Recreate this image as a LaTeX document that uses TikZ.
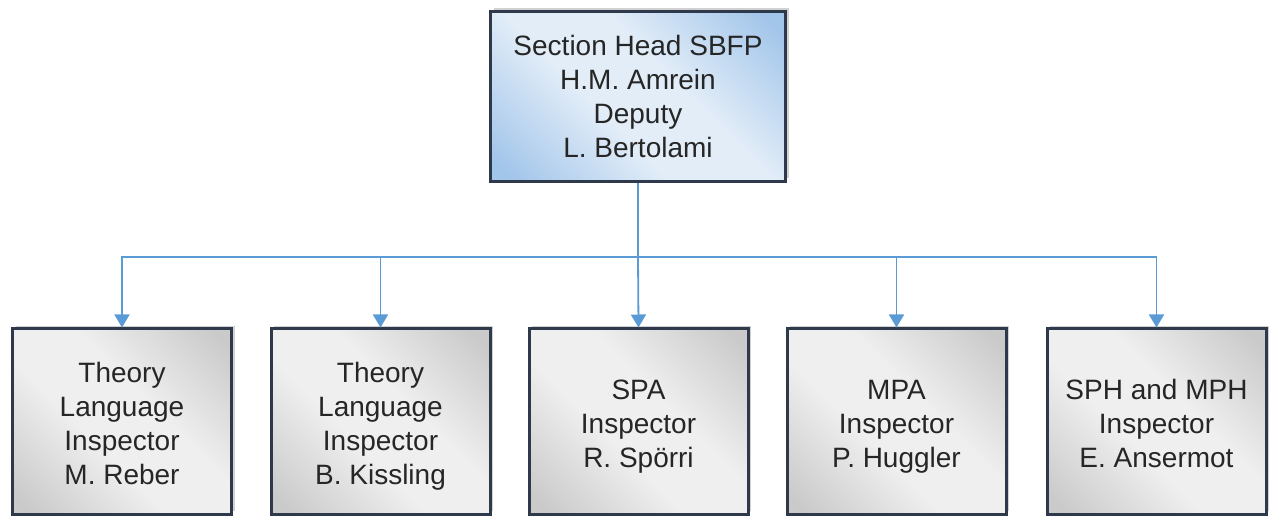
\documentclass[tikz,border=0pt]{standalone}
\usepackage{fontspec}
\setmainfont{Liberation Sans}
\usetikzlibrary{arrows.meta,shadows}
\definecolor{linkblue}{HTML}{5B9BD5}
\definecolor{edgedark}{HTML}{2E3A4C}
\definecolor{bluecorner}{HTML}{A2C5EA}
\definecolor{bluemid}{HTML}{E2EDF8}
\definecolor{graycorner}{HTML}{CACACA}
\definecolor{graymid}{HTML}{EFEFEF}
\pgfdeclarehorizontalshading{triblue}{100bp}{color(0bp)=(bluecorner); color(18bp)=(bluecorner); color(42bp)=(bluemid); color(58bp)=(bluemid); color(82bp)=(bluecorner); color(100bp)=(bluecorner)}
\pgfdeclarehorizontalshading{trigray}{100bp}{color(0bp)=(graycorner); color(18bp)=(graycorner); color(42bp)=(graymid); color(58bp)=(graymid); color(82bp)=(graycorner); color(100bp)=(graycorner)}
\newcommand{\hs}{\rule{0pt}{26pt}}
\newcommand{\fs}{\rule{0pt}{30pt}}
\newcommand{\es}{\rule[-6pt]{0pt}{0pt}}
\tikzset{
  boxbase/.style={draw=edgedark, line width=3pt, inner sep=0pt, align=center,
    font=\fontsize{28}{34}\selectfont, text=black!85,
    drop shadow={shadow xshift=3pt, shadow yshift=3pt, opacity=0.3, fill=black!60}},
  headbox/.style={boxbase, minimum width=295pt, minimum height=170pt, shading=triblue, shading angle=45},
  staffbox/.style={boxbase, minimum width=219pt, minimum height=185pt, shading=trigray, shading angle=45},
  link/.style={draw=linkblue, line width=1.8pt},
  linkarrow/.style={link, -{Triangle[width=15pt,length=13pt]}}
}
\begin{document}
\begin{tikzpicture}[x=1pt,y=-1pt]
\useasboundingbox (0,0) rectangle (1269,518);
\node[headbox] (head) at (638,96.5) {\hs Section Head SBFP\\H.M. Amrein\\Deputy\\L. Bertolami\es};
\node[staffbox] (s1) at (122,421.5) {\fs Theory\\Language\\Inspector\\M. Reber\es};
\node[staffbox] (s2) at (380.5,421.5) {\fs Theory\\Language\\Inspector\\B. Kissling\es};
\node[staffbox] (s3) at (638.5,421.5) {\fs SPA\\Inspector\\R. Spörri\es};
\node[staffbox] (s4) at (896.5,421.5) {\fs MPA\\Inspector\\P. Huggler\es};
\node[staffbox] (s5) at (1156.5,421.5) {\fs SPH and MPH\\Inspector\\E. Ansermot\es};
\coordinate (junction) at (head.south |- 0,257);
\draw[link] (head.south) -- (junction);
\draw[linkarrow] (junction) -| (s1.north);
\draw[linkarrow] (junction) -| (s2.north);
\draw[linkarrow] (junction) -- (s3.north);
\draw[linkarrow] (junction) -| (s4.north);
\draw[linkarrow] (junction) -| (s5.north);
\end{tikzpicture}
\end{document}
